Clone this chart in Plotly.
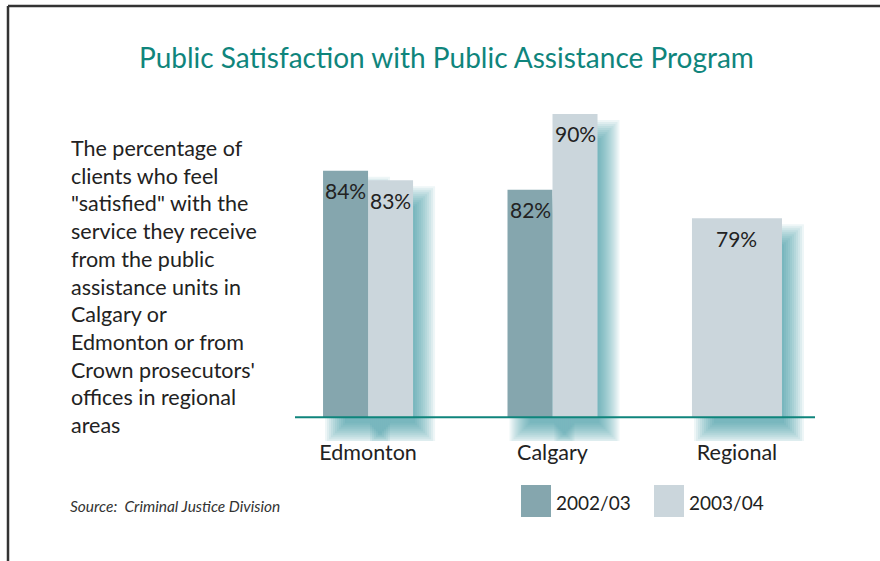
import plotly.graph_objects as go

# ---- data ----
categories = ["Edmonton", "Calgary", "Regional"]
series_names = ["2002/03", "2003/04"]
values_2002 = [84, 82, None]
values_2003 = [83, 90, 79]

title_text = "Public Satisfaction with Public Assistance Program"
description_lines = [
    "The percentage of",
    "clients who feel",
    "\"satisfied\" with the",
    "service they receive",
    "from the public",
    "assistance units in",
    "Calgary or",
    "Edmonton or from",
    "Crown prosecutors'",
    "offices in regional",
    "areas",
]
source_text = "Source:&nbsp;&nbsp;Criminal Justice Division"

# ---- styling ----
W, H = 880, 561
M_L, M_R, M_T, M_B = 295, 65, 95, 120
FONT = "Lato, 'Open Sans', sans-serif"
TEAL = "#0f857c"
DARK_BAR = "#85a6ae"
LIGHT_BAR = "#cbd6dc"
SHADOW = "#1d8a93"
TEXT = "#222222"

BASE = 58            # value where the bars sit on the baseline
Y_RANGE = [55.5, 92]
X_RANGE = [-0.396, 2.423]
BAR_W = 0.244

plot_w = W - M_L - M_R
plot_h = H - M_T - M_B
px_per_x = plot_w / (X_RANGE[1] - X_RANGE[0])
px_per_y = plot_h / (Y_RANGE[1] - Y_RANGE[0])


def px_to_paper_x(px):
    return (px - M_L) / plot_w


def px_to_paper_y(py):
    return (H - M_B - py) / plot_h


# per-bar geometry (offset relative to category centre, width)
offs_2002 = [-BAR_W, -BAR_W, -BAR_W]
wid_2002 = [BAR_W, BAR_W, BAR_W]
offs_2003 = [0 if v is not None else -BAR_W for v in values_2002]
wid_2003 = [BAR_W if v is not None else 2 * BAR_W for v in values_2002]

fig = go.Figure()

fig.add_trace(go.Bar(
    name=series_names[0], x=list(range(len(categories))),
    y=[None if v is None else v - BASE for v in values_2002], base=BASE,
    offset=offs_2002, width=wid_2002,
    marker=dict(color=DARK_BAR, line=dict(width=0)),
    showlegend=False,
))
fig.add_trace(go.Bar(
    name=series_names[1], x=list(range(len(categories))),
    y=[v - BASE for v in values_2003], base=BASE,
    offset=offs_2003, width=wid_2003,
    marker=dict(color=LIGHT_BAR, line=dict(width=0)),
    showlegend=False,
))

shapes = []
annotations = []

# soft teal drop shadow behind each bar (stacked translucent layers)
sdx, sdy = 12, 16
for vals, offs, wids in ((values_2002, offs_2002, wid_2002),
                         (values_2003, offs_2003, wid_2003)):
    for i, v in enumerate(vals):
        if v is None:
            continue
        x0 = i + offs[i] + sdx / px_per_x
        x1 = i + offs[i] + wids[i] + sdx / px_per_x
        y0 = BASE - sdy / px_per_y
        y1 = v - sdy / px_per_y
        for e in range(-10, 11, 2):
            ex, ey = e / px_per_x, e / px_per_y
            shapes.append(dict(
                type="rect", xref="x", yref="y", layer="below",
                x0=x0 + ex, x1=x1 - ex, y0=y0 + ey, y1=y1 - ey,
                fillcolor=SHADOW, opacity=0.075, line=dict(width=0),
            ))

# baseline
shapes.append(dict(type="line", xref="x", yref="y", x0=X_RANGE[0], x1=X_RANGE[1],
                   y0=BASE, y1=BASE, line=dict(color=TEAL, width=2)))

# frame (top and left edges)
shapes.append(dict(type="line", xref="paper", yref="paper",
                   x0=px_to_paper_x(8), x1=px_to_paper_x(W + 2),
                   y0=px_to_paper_y(6), y1=px_to_paper_y(6),
                   line=dict(color="#333333", width=2.5)))
shapes.append(dict(type="line", xref="paper", yref="paper",
                   x0=px_to_paper_x(8), x1=px_to_paper_x(8),
                   y0=px_to_paper_y(6), y1=px_to_paper_y(H + 2),
                   line=dict(color="#333333", width=2.5)))

# value labels just inside the top of each bar
for vals, offs, wids in ((values_2002, offs_2002, wid_2002),
                         (values_2003, offs_2003, wid_2003)):
    for i, v in enumerate(vals):
        if v is None:
            continue
        annotations.append(dict(
            x=i + offs[i] + wids[i] / 2, y=v, xref="x", yref="y",
            text=f"{v}%", showarrow=False, yanchor="middle", yshift=-20,
            font=dict(family=FONT, size=21, color=TEXT),
        ))

# title
annotations.append(dict(
    x=px_to_paper_x(446), y=px_to_paper_y(57), xref="paper", yref="paper",
    text=title_text, showarrow=False, xanchor="center", yanchor="middle",
    font=dict(family=FONT, size=28, color=TEAL),
))

# description block on the left
for k, line in enumerate(description_lines):
    annotations.append(dict(
        x=px_to_paper_x(69), y=px_to_paper_y(148 + 27.7 * k),
        xref="paper", yref="paper", text=line, showarrow=False,
        xanchor="left", yanchor="middle",
        font=dict(family=FONT, size=21.5, color=TEXT),
    ))

# source note
annotations.append(dict(
    x=px_to_paper_x(68), y=px_to_paper_y(506), xref="paper", yref="paper",
    text=f"<i>{source_text}</i>", showarrow=False, xanchor="left", yanchor="middle",
    font=dict(family=FONT, size=15.5, color="#333333"),
))

# legend swatches and labels
legend_items = [(series_names[0], DARK_BAR, 521), (series_names[1], LIGHT_BAR, 654)]
for name, color, sx in legend_items:
    shapes.append(dict(type="rect", xref="paper", yref="paper",
                       x0=px_to_paper_x(sx), x1=px_to_paper_x(sx + 30),
                       y0=px_to_paper_y(517), y1=px_to_paper_y(485),
                       fillcolor=color, line=dict(width=0)))
    annotations.append(dict(
        x=px_to_paper_x(sx + 33), y=px_to_paper_y(502), xref="paper", yref="paper",
        text=name, showarrow=False, xanchor="left", yanchor="middle",
        font=dict(family=FONT, size=19, color=TEXT),
    ))

fig.update_layout(
    width=W, height=H,
    margin=dict(l=M_L, r=M_R, t=M_T, b=M_B, pad=0),
    paper_bgcolor="white", plot_bgcolor="rgba(0,0,0,0)",
    barmode="overlay", showlegend=False,
    shapes=shapes, annotations=annotations,
    xaxis=dict(range=X_RANGE, tickmode="array",
               tickvals=list(range(len(categories))), ticktext=categories,
               showgrid=False, zeroline=False, showline=False, ticks="",
               ticklabelstandoff=-4,
               tickfont=dict(family=FONT, size=21.5, color=TEXT), fixedrange=True),
    yaxis=dict(range=Y_RANGE, visible=False, fixedrange=True),
)

fig.write_html("out.html")
